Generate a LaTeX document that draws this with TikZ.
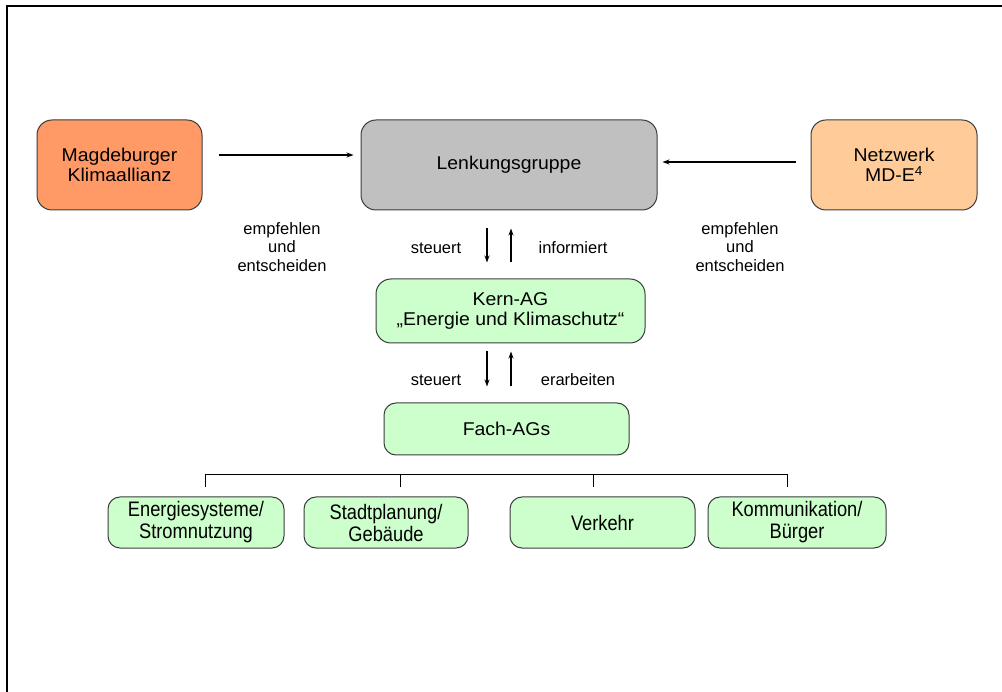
\documentclass[tikz,border=0pt]{standalone}
\usepackage{fontspec}
\setmainfont{Liberation Sans}
\newfontfamily\narrowfont[FakeStretch=0.87]{Liberation Sans}
\newfontfamily\wideboxfont[FakeStretch=1.05]{Liberation Sans}
\usetikzlibrary{arrows.meta}
\definecolor{salmon}{RGB}{255,153,102}
\definecolor{peach}{RGB}{255,204,153}
\definecolor{lgray}{RGB}{192,192,192}
\definecolor{lgreen}{RGB}{204,255,204}
\definecolor{bord}{RGB}{60,60,60}
\tikzset{
  box/.style={draw=bord, line width=1pt, rounded corners=15pt, align=center, inner sep=0pt,
    font=\wideboxfont\fontsize{18.5}{20}\selectfont},
  subbox/.style={draw=bord, line width=1pt, rounded corners=12pt, align=center, inner sep=0pt,
    font=\narrowfont\fontsize{21}{22}\selectfont, fill=lgreen, minimum height=51pt},
  lbl/.style={align=center, inner sep=0pt, font=\fontsize{16.5}{18.5}\selectfont},
  arr/.style={-{Stealth[length=7pt,width=5pt]}, line width=1.2pt, black},
  tree/.style={line width=0.9pt, black}
}
\begin{document}
\begin{tikzpicture}[x=1pt,y=-1pt]
\useasboundingbox (0,0) rectangle (1002,692);
% frame
\draw[line width=2.5pt] (7,692) -- (7,6) -- (1002,6);
% top row
\node[box, fill=salmon, minimum width=165pt, minimum height=90pt] (mag) at (119.5,165) {Magdeburger\\ Klimaallianz};
\node[box, fill=lgray, minimum width=296pt, minimum height=90pt] (lenk) at (509,165) {Lenkungsgruppe};
\node[box, fill=peach, minimum width=166pt, minimum height=90pt] (netz) at (894,165) {Netzwerk\\ MD-E\textsuperscript{4}};
\draw[arr, shorten <=16pt, shorten >=7pt] ([yshift=10pt]mag.east) -- ([yshift=10pt]mag.east -| lenk.west);
\draw[arr, shorten <=15pt, shorten >=5pt] ([yshift=3pt]netz.west) -- ([yshift=3pt]netz.west -| lenk.east);
\node[lbl] (l1) at (282,247) {empfehlen\\ und\\ entscheiden};
\node[lbl] (l2) at (740,247) {empfehlen\\ und\\ entscheiden};
% middle
\node[box, fill=lgreen, minimum width=269pt, minimum height=64pt] (kern) at (510.5,311) {Kern-AG\\ „Energie und Klimaschutz“};
\node[box, fill=lgreen, rounded corners=12pt, minimum width=245pt, minimum height=52pt] (fach) at (506.5,429) {Fach-AGs};
\draw[arr, shorten <=18pt, shorten >=16pt] ([xshift=-22pt]lenk.south) -- ([xshift=-22pt]lenk.south |- kern.north);
\draw[arr, shorten <=16pt, shorten >=18pt] ([xshift=2pt]lenk.south |- kern.north) -- ([xshift=2pt]lenk.south);
\draw[arr, shorten <=8pt, shorten >=16pt] ([xshift=-22pt]lenk.south |- kern.south) -- ([xshift=-22pt]lenk.south |- fach.north);
\draw[arr, shorten <=16pt, shorten >=8pt] ([xshift=2pt]lenk.south |- fach.north) -- ([xshift=2pt]lenk.south |- kern.south);
\node[lbl] (s1) at (436,248) {steuert};
\node[lbl] (i1) at (573,248) {informiert};
\node[lbl] (s2) at (436,380) {steuert};
\node[lbl] (e2) at (578,380) {erarbeiten};
% bottom
\node[subbox, minimum width=176pt] (b1) at (196,522.5) {Energiesysteme/\\ Stromnutzung};
\node[subbox, minimum width=164pt] (b2) at (386,522.5) {Stadtplanung/\\ Gebäude};
\node[subbox, minimum width=185pt] (b3) at (602.5,522.5) {Verkehr};
\node[subbox, minimum width=178pt] (b4) at (797,522.5) {Kommunikation/\\ Bürger};
\coordinate (t1) at (205,474);
\coordinate (t2) at (400,474);
\coordinate (t3) at (593,474);
\coordinate (t4) at (787,474);
\draw[tree] (t1) -- (t4);
\draw[tree, shorten >=9pt] (t1) -- (t1 |- b1.north);
\draw[tree, shorten >=9pt] (t2) -- (t2 |- b2.north);
\draw[tree, shorten >=9pt] (t3) -- (t3 |- b3.north);
\draw[tree, shorten >=9pt] (t4) -- (t4 |- b4.north);
\end{tikzpicture}
\end{document}
